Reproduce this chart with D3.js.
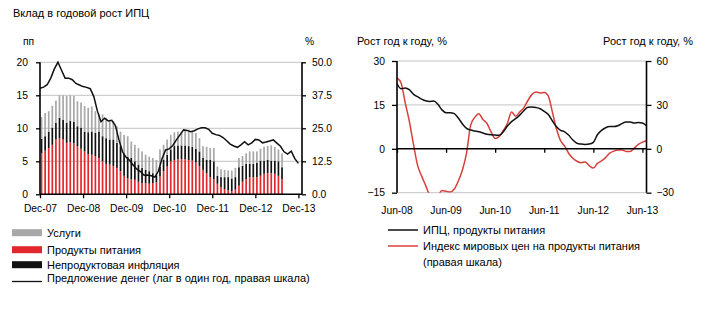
<!DOCTYPE html>
<html><head><meta charset="utf-8">
<script src="https://cdn.jsdelivr.net/npm/d3@7"></script>
<style>
html,body{margin:0;padding:0;background:#fff;}
svg{display:block;font-family:"Liberation Sans",Arial,sans-serif;}
</style></head>
<body><svg id="c" width="705" height="327"></svg>
<script>
// ---------- Left chart data (monthly, Dec-07 .. Jul-13) ----------
const foodContrib = [6.2,6.6,7.0,7.5,8.3,8.5,8.3,7.8,7.9,7.7,7.3,6.9,6.5,6.1,6.0,5.8,5.5,5.0,4.6,4.5,4.3,4.0,3.5,2.8,2.4,2.3,2.2,1.9,1.7,1.7,1.6,1.7,1.8,2.7,3.5,4.2,5.0,5.2,5.3,5.3,5.3,5.2,5.1,4.8,4.3,3.7,3.2,2.6,2.3,1.6,1.1,0.8,0.6,0.5,0.7,1.3,1.9,2.3,2.6,2.6,2.6,2.8,3.1,3.2,3.2,3.1,2.8,2.3];
const nonFoodContrib = [2.2,2.2,2.5,2.6,2.5,3.1,3.0,3.0,3.2,3.3,3.0,3.2,3.0,3.3,3.5,3.5,4.0,3.8,3.9,3.8,4.0,3.8,3.8,3.4,3.3,3.2,2.8,2.6,2.3,2.0,1.9,1.5,1.1,1.5,1.7,1.8,1.8,2.1,2.1,2.1,2.1,2.1,2.1,2.1,2.2,1.8,2.0,2.6,2.7,1.2,1.5,1.8,2.0,1.9,1.9,2.8,2.4,2.3,2.0,2.0,2.2,2.3,2.0,2.0,1.9,2.0,2.2,1.8];
const servicesContrib = [3.3,3.5,3.1,3.3,3.4,3.4,3.7,4.1,3.9,3.9,3.8,3.8,3.9,3.7,3.8,3.3,2.7,3.3,3.1,3.0,2.8,2.5,2.2,2.8,3.1,2.5,2.5,2.5,2.5,2.3,2.2,2.3,2.3,2.6,2.3,2.3,2.2,2.1,2.1,2.1,2.4,2.5,2.3,2.4,2.0,1.8,2.0,1.8,2.0,1.4,1.2,1.1,1.0,1.2,1.4,1.4,1.5,1.6,1.9,1.9,1.7,1.8,2.1,2.1,2.3,2.1,1.8,2.1];
// money supply, 1-year lag, right scale (Dec-07 .. Dec-13)
const moneySupply = [40.2,40.6,41.5,44.0,47.5,50.0,47.0,44.0,44.0,43.4,42.0,41.4,40.8,40.5,40.0,37.0,31.5,27.5,28.8,27.8,28.0,26.0,20.6,16.1,14.0,12.8,11.0,9.5,8.6,7.2,7.3,7.0,6.5,8.8,13.5,16.8,17.2,18.5,20.6,22.5,24.4,24.2,23.7,24.1,24.8,25.2,25.2,24.6,23.1,22.6,22.3,21.5,20.3,19.0,18.3,17.8,18.7,19.9,18.7,19.5,20.8,20.6,19.5,19.8,20.2,20.6,19.4,18.2,16.1,15.2,16.3,13.5,11.7];
const leftXLabels = ["Dec-07","Dec-08","Dec-09","Dec-10","Dec-11","Dec-12","Dec-13"];
const leftYTicks = [0,5,10,15,20];
const leftY2Ticks = ["0.0","12.5","25.0","37.5","50.0"];

// ---------- Right chart data (monthly, Jun-08 .. Jul-13) ----------
const cpiFood = [22.3,20.5,20.8,20.2,18.7,17.8,17.0,16.4,16.2,16.3,15.2,13.3,12.3,12.3,12.0,10.5,8.5,7.0,6.4,6.1,5.8,5.4,5.0,4.8,4.7,4.6,5.8,7.8,9.3,10.3,11.5,13.0,14.2,14.3,14.1,13.7,12.8,11.7,9.5,7.5,6.3,5.8,4.6,3.0,1.9,1.6,1.5,1.6,2.2,4.8,6.3,7.2,7.6,7.6,7.9,8.6,9.2,9.2,8.8,9.0,8.8,7.9];
const worldFood = [48.5,45.0,31.5,19.0,3.5,-11,-18.5,-25,-31.5,-33,-32,-28.5,-29,-29.6,-27.5,-22,-14.5,-3,16,21.5,24.0,20.0,17.3,11.5,7.0,8.5,12.5,17.5,25.2,22.3,25.2,28.0,33,37.2,38.8,38.2,38.5,36,25,13.5,5.5,1.8,-3.2,-6.5,-8.5,-9.5,-9,-11.5,-13.2,-10,-8.2,-6,-3,-1.6,-0.8,-0.8,-1.8,-1.8,0.5,3,4.6,5.5];
const rightXLabels = ["Jun-08","Jun-09","Jun-10","Jun-11","Jun-12","Jun-13"];
const rightYTicks = [-15,0,15,30];
const rightY2Ticks = [-30,0,30,60];

const svg = d3.select("#c");
const FONT = 10.3;
const grid = "#c4c4c4";

// ================= LEFT CHART =================
const L = {x0:40, x1:302, y0:194.3, y1:62.3};
const xL = d3.scaleLinear().domain([0,73]).range([L.x0,L.x1]);
const yL = d3.scaleLinear().domain([0,20]).range([L.y0,L.y1]);
const yL2 = d3.scaleLinear().domain([0,50]).range([L.y0,L.y1]);

svg.append("text").attr("x",13).attr("y",17).attr("font-size",11).text("Вклад в годовой рост ИПЦ");
svg.append("text").attr("x",23).attr("y",45).attr("font-size",FONT).text("пп");
svg.append("text").attr("x",305).attr("y",45).attr("font-size",FONT).text("%");

// gridlines
svg.append("g").selectAll("line").data(leftYTicks.filter(d=>d>0)).join("line")
  .attr("x1",L.x0).attr("x2",L.x1).attr("y1",d=>yL(d)).attr("y2",d=>yL(d))
  .attr("stroke",grid).attr("stroke-width",1);

// stacked bars
const barW = 1.7;
const stackData = foodContrib.map((f,i)=>({i, food:f, nonfood:nonFoodContrib[i], services:servicesContrib[i]}));
const stack = d3.stack().keys(["food","nonfood","services"])(stackData);
const barColors = {food:"#e2262b", nonfood:"#111111", services:"#a8a8a8"};
svg.append("g").selectAll("g").data(stack).join("g")
  .attr("fill",d=>barColors[d.key])
  .selectAll("rect").data(d=>d).join("rect")
  .attr("x",d=>xL(d.data.i)+0.7).attr("width",barW)
  .attr("y",d=>yL(d[1])).attr("height",d=>yL(d[0])-yL(d[1]));

// money supply line
svg.append("path").datum(moneySupply)
  .attr("d",d3.line().x((d,i)=>xL(i)).y(d=>yL2(d)))
  .attr("fill","none").attr("stroke","#111").attr("stroke-width",1.5);

// axes
const axL = svg.append("g").attr("transform",`translate(${L.x0},0)`)
  .call(d3.axisLeft(yL).tickValues(leftYTicks).tickSize(4).tickPadding(8));
const axL2 = svg.append("g").attr("transform",`translate(${L.x1},0)`)
  .call(d3.axisRight(yL2).tickValues([0,12.5,25,37.5,50]).tickFormat((d,i)=>leftY2Ticks[i]).tickSize(4).tickPadding(6));
const axLB = svg.append("g").attr("transform",`translate(0,${L.y0})`)
  .call(d3.axisBottom(xL).tickValues(leftXLabels.map((d,i)=>i*12)).tickFormat((d,i)=>leftXLabels[i]).tickSize(4).tickPadding(6));
[axL,axL2,axLB].forEach(a=>{
  a.select(".domain").attr("stroke","#000").attr("stroke-width",1.6);
  a.selectAll(".tick line").attr("stroke","#000").attr("stroke-width",1.3);
  a.selectAll("text").attr("font-size",FONT).attr("font-family","Liberation Sans, Arial").attr("fill","#000");
});
axLB.select(".domain").attr("d",`M${L.x0},0H${L.x1}`);
axL.select(".domain").attr("d",`M0,${L.y0}V${L.y1}`);
axL2.select(".domain").attr("d",`M0,${L.y0}V${L.y1}`);

// left legend
const legL = [
  {t:"Услуги", c:"#a8a8a8", y:232.7, type:"box"},
  {t:"Продукты питания", c:"#e2262b", y:249.7, type:"box"},
  {t:"Непродуктовая инфляция", c:"#111", y:264.7, type:"box"},
  {t:"Предложение денег (лаг в один год, правая шкала)", c:"#111", y:281.5, type:"line"}
];
const lg = svg.append("g");
legL.forEach(d=>{
  if(d.type==="box") lg.append("rect").attr("x",12).attr("y",d.y-3.5).attr("width",30).attr("height",7).attr("fill",d.c);
  else lg.append("line").attr("x1",12).attr("x2",42).attr("y1",d.y).attr("y2",d.y).attr("stroke",d.c).attr("stroke-width",1.3);
});
lg.selectAll("text").data(legL).join("text")
  .attr("x",47).attr("y",(d,i)=> d.type==="line" ? d.y : d.y+4).attr("font-size",11).text(d=>d.t);

// ================= RIGHT CHART =================
const R = {x0:397, x1:646.5, y0:192.7, y1:61};
const xR = d3.scaleLinear().domain([0,61]).range([R.x0,R.x1]);
const yR = d3.scaleLinear().domain([-15,30]).range([R.y0,R.y1]);
const yR2 = d3.scaleLinear().domain([-30,60]).range([R.y0,R.y1]);

svg.append("text").attr("x",357).attr("y",45).attr("font-size",11).text("Рост год к году, %");
svg.append("text").attr("x",693).attr("y",45).attr("text-anchor","end").attr("font-size",11).text("Рост год к году, %");

svg.append("g").selectAll("line").data(rightYTicks.filter(d=>d!==0)).join("line")
  .attr("x1",R.x0).attr("x2",R.x1).attr("y1",d=>yR(d)).attr("y2",d=>yR(d))
  .attr("stroke",grid).attr("stroke-width",1);

svg.append("clipPath").attr("id","clipR").append("rect")
  .attr("x",R.x0).attr("y",R.y1-2).attr("width",R.x1-R.x0).attr("height",R.y0-R.y1+2);

const gR = svg.append("g").attr("clip-path","url(#clipR)");
gR.append("path").datum(worldFood)
  .attr("d",d3.line().x((d,i)=>xR(i)).y(d=>yR2(d)).curve(d3.curveMonotoneX))
  .attr("fill","none").attr("stroke","#d8403c").attr("stroke-width",1.5);
gR.append("path").datum(cpiFood)
  .attr("d",d3.line().x((d,i)=>xR(i)).y(d=>yR(d)).curve(d3.curveMonotoneX))
  .attr("fill","none").attr("stroke","#111").attr("stroke-width",1.5);

const axR = svg.append("g").attr("transform",`translate(${R.x0},0)`)
  .call(d3.axisLeft(yR).tickValues(rightYTicks).tickSize(5).tickPadding(7));
const axR2 = svg.append("g").attr("transform",`translate(${R.x1},0)`)
  .call(d3.axisRight(yR2).tickValues(rightY2Ticks).tickSize(5).tickPadding(5));
const axRB = svg.append("g").attr("transform",`translate(0,${yR(0)})`)
  .call(d3.axisBottom(xR).tickValues(rightXLabels.map((d,i)=>i*12)).tickFormat(()=> "").tickSize(4));
axRB.select(".domain").attr("d",`M${R.x0},0H${R.x1}`);
[axR,axR2,axRB].forEach(a=>{
  a.select(".domain").attr("stroke","#000").attr("stroke-width",1.6);
  a.selectAll(".tick line").attr("stroke","#000").attr("stroke-width",1.3);
  a.selectAll("text").attr("font-size",FONT).attr("font-family","Liberation Sans, Arial").attr("fill","#000");
});
axR.select(".domain").attr("d",`M0,${R.y0}V${R.y1}`);
axR2.select(".domain").attr("d",`M0,${R.y0}V${R.y1}`);
// bottom labels
svg.append("g").selectAll("text").data(rightXLabels).join("text")
  .attr("x",(d,i)=>xR(i*12)).attr("y",213.5).attr("text-anchor","middle").attr("font-size",FONT).text(d=>d);

// right legend
const legR = [
  {t:"ИПЦ, продукты питания", c:"#111", y:230},
  {t:"Индекс мировых цен на продукты питания", c:"#d8403c", y:246}
];
legR.forEach(d=>{
  svg.append("line").attr("x1",388).attr("x2",418).attr("y1",d.y).attr("y2",d.y).attr("stroke",d.c).attr("stroke-width",1.5);
  svg.append("text").attr("x",423).attr("y",d.y+4).attr("font-size",11).text(d.t);
});
svg.append("text").attr("x",423).attr("y",266).attr("font-size",11).text("(правая шкала)");
</script></body></html>
